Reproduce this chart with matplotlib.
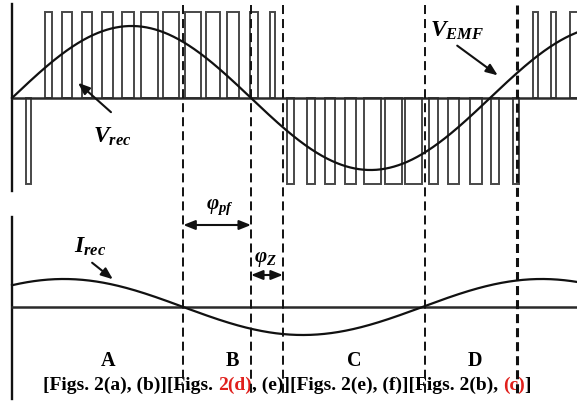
import numpy as np
import matplotlib
matplotlib.use("Agg")
import matplotlib.pyplot as plt
from matplotlib.patches import Rectangle

plt.rcParams['mathtext.fontset'] = 'custom'
plt.rcParams['mathtext.it'] = 'Liberation Serif:italic:bold'
plt.rcParams['mathtext.rm'] = 'Liberation Serif:bold'
plt.rcParams['mathtext.bf'] = 'Liberation Serif:bold'
plt.rcParams['lines.scale_dashes'] = False

# ---- waveform data (electrical angle in degrees, amplitudes in p.u.) ----
emf_peak = 1.0            # back-EMF amplitude
pwm_level = 1.2           # rectifier pulse level
irec_peak = 1.0           # rectifier current amplitude
irec_lead_deg = 51.0      # current zero crossing ahead of the EMF

# rectifier PWM pulses: start angle, end angle, polarity
pulse_start = [10.5, 25, 38, 53, 68, 83, 97, 114, 130, 146, 162, 179, 194,
               207, 222, 236, 251, 265, 281, 296, 314, 328, 345, 361, 377,
               392, 406, 420]
pulse_end = [14.5, 30, 45, 60, 76, 92, 110, 126, 142, 157, 171, 185, 198,
             212, 228, 243, 259, 278, 294, 309, 321, 337, 354, 367, 382,
             396, 410, 428]
pulse_sign = [-1] + [1] * 12 + [-1] * 12 + [1] * 3

# operating-mode boundaries (degrees)
boundaries = [129, 180, 204, 311, 380]
mode_names = ["A", "B", "C", "D"]
mode_centers = [72.3, 165.7, 257.6, 348.7]

caption_parts = ["[Figs. 2(a), (b)][Figs. ", "2(d)", ", (e)][Figs. 2(e), (f)][Figs. 2(b), ", "(c)", "]"]
caption_colors = ["black", "#e0201c", "black", "#e0201c", "black"]

# ---- layout (vertical positions in pixel rows from the top) ----
TOP_ZERO, TOP_GAIN = 99, 72
BOT_ZERO, BOT_GAIN = 308, 28

fig = plt.figure(figsize=(5.77, 4.02), dpi=100)
ax = fig.add_axes([0, 0, 1, 1])
ax.set_xlim(-9.04, 425.5)
ax.set_ylim(402, 0)
ax.axis("off")

theta = np.linspace(0, 425.5, 900)
rad = np.radians(theta)

# PWM pulses of the rectifier voltage
for s, e, sg in zip(pulse_start, pulse_end, pulse_sign):
    ax.add_patch(Rectangle((s, TOP_ZERO), e - s, -sg * pwm_level * TOP_GAIN,
                           fill=False, edgecolor="#474747", lw=1.4, zorder=2))

# back EMF
ax.plot(theta, TOP_ZERO - TOP_GAIN * emf_peak * np.sin(rad), color="#111111", lw=1.6, zorder=4)
# rectifier current
ax.plot(theta, BOT_ZERO - BOT_GAIN * irec_peak * np.sin(rad + np.radians(irec_lead_deg)),
        color="#111111", lw=1.6, zorder=4)

# zero lines and vertical axes
ax.plot([0, 425.5], [TOP_ZERO, TOP_ZERO], color="#2a2a2a", lw=1.8, zorder=3)
ax.plot([0, 425.5], [BOT_ZERO, BOT_ZERO], color="#2a2a2a", lw=1.8, zorder=3)
ax.plot([0, 0], [5, 192], color="#111111", lw=1.7)
ax.plot([0, 0], [218, 400], color="#111111", lw=1.7)

# mode boundaries
for i, b in enumerate(boundaries):
    lw = 2.2 if i == len(boundaries) - 1 else 1.4
    ax.plot([b, b], [6, 394], color="#111111", lw=lw, ls=(0, (6.5, 3.6)), zorder=5)

# signal labels
arrow = dict(arrowstyle="-|>,head_length=0.7,head_width=0.28", color="#111111", lw=1.5)
ax.text(75.3, 136, r"$V_{rec}$", fontsize=17, ha="center", va="center")
ax.annotate("", xy=(48.2, 82), xytext=(76.1, 115), arrowprops=arrow)
ax.text(335.1, 30, r"$V_{EMF}$", fontsize=17, ha="center", va="center")
ax.annotate("", xy=(367.5, 78), xytext=(333.6, 45), arrowprops=arrow)
ax.text(58.7, 246, r"$I_{rec}$", fontsize=17, ha="center", va="center")
ax.annotate("", xy=(77.6, 282), xytext=(58.7, 262), arrowprops=arrow)

# phase-angle intervals
darrow = dict(arrowstyle="<|-|>,head_length=0.7,head_width=0.28", color="#111111", lw=1.5,
              shrinkA=0, shrinkB=0)
ax.text(156.6, 207, r"$\varphi_{pf}$", fontsize=15, ha="center", va="center")
ax.annotate("", xy=(boundaries[0], 226), xytext=(boundaries[1], 226), arrowprops=darrow)
ax.text(190.5, 259, r"$\varphi_{Z}$", fontsize=15, ha="center", va="center")
ax.annotate("", xy=(boundaries[1], 276), xytext=(boundaries[2], 276), arrowprops=darrow)

# mode names
for name, c in zip(mode_names, mode_centers):
    ax.text(c, 361, name, fontsize=14.5, ha="center", va="center",
            family="Liberation Serif", weight="bold")

# caption with highlighted figure references
prev = ax.text(23.3, 394, caption_parts[0], fontsize=14, ha="left", va="bottom",
               family="Liberation Serif", weight="bold", color=caption_colors[0])
for part, col in zip(caption_parts[1:], caption_colors[1:]):
    prev = ax.annotate(part, xy=(1, 0), xycoords=prev, ha="left", va="bottom",
                       fontsize=14, family="Liberation Serif", weight="bold", color=col)

fig.savefig("out.png", dpi=100)
